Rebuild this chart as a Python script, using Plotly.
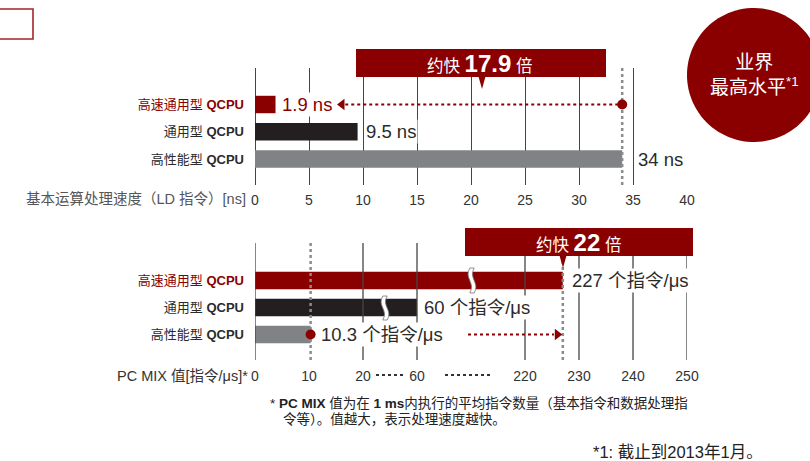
import numpy as np
import plotly.graph_objects as go

W, H = 810, 461

# ---------------- data ----------------
categories = ["高速通用型", "通用型", "高性能型"]
cpu_suffix = "QCPU"
ld_ns = [1.9, 9.5, 34]                 # 基本运算处理速度 [ns]
pcmix = [227, 60, 10.3]                # PC MIX 值 [指令/μs]
top_ticks = [0, 5, 10, 15, 20, 25, 30, 35, 40]
bottom_ticks = [0, 10, 20, 60, 220, 230, 240, 250]
bottom_grid = [0, 20, 60, 220, 230, 240, 250]
# broken-axis mapping (value -> position on a 0..40 scale)
break_values = [0, 20, 60, 220, 250]
break_positions = [0, 10, 15, 25, 40]

RED = "#8a0000"
colors = [RED, "#231f20", "#808285"]
GRID = "#454545"
DOT = "#8c8c8c"
FONT = "Liberation Sans, Noto Sans CJK SC, sans-serif"


def fx(p):
    return p / W


def fy(p):
    return 1 - p / H


def pos(v):
    return float(np.interp(v, break_values, break_positions))


def yrange(c0, step, top, bottom):
    return [(bottom - c0) / step, (top - c0) / step]


X0, X1 = 255, 687
px_per_unit = (X1 - X0) / 40.0

top_dom = [fy(185), fy(68)]
bot_dom = [fy(360), fy(243)]
top_yr = yrange(104.5, 27.25, 68, 185)
bot_yr = yrange(280.5, 27.0, 243, 360)

ticktext = [
    (f"<span style='color:{RED}'>{c} <b>{cpu_suffix}</b></span>" if i == 0 else f"{c} <b>{cpu_suffix}</b>")
    for i, c in enumerate(categories)
]
idx = list(range(len(categories)))

fig = go.Figure()

# ---------------- top chart ----------------
fig.add_trace(go.Bar(x=ld_ns, y=idx, orientation="h", marker=dict(color=colors, line=dict(width=0)),
                     width=0.64, xaxis="x", yaxis="y", hoverinfo="skip"))
fig.add_trace(go.Scatter(x=[ld_ns[2], ld_ns[2]], y=top_yr, mode="lines", xaxis="x", yaxis="y",
                         line=dict(color=DOT, width=2.5, dash="dot"), hoverinfo="skip"))
tip_top = (342 - X0) / px_per_unit
fig.add_trace(go.Scatter(x=[tip_top + 0.3, ld_ns[2]], y=[0, 0], mode="lines", xaxis="x", yaxis="y",
                         line=dict(color=RED, width=2.2, dash="dot"), hoverinfo="skip"))
fig.add_trace(go.Scatter(x=[tip_top], y=[0], mode="markers", xaxis="x", yaxis="y",
                         marker=dict(symbol="triangle-left", size=10, color=RED), hoverinfo="skip"))
fig.add_trace(go.Scatter(x=[ld_ns[2]], y=[0], mode="markers", xaxis="x", yaxis="y",
                         marker=dict(symbol="circle", size=10, color=RED), hoverinfo="skip"))

# ---------------- bottom chart ----------------
gx, gy = [], []
for g in bottom_grid:
    gx += [pos(g), pos(g), None]
    gy += [bot_yr[0], bot_yr[1], None]
fig.add_trace(go.Scatter(x=gx, y=gy, mode="lines", xaxis="x2", yaxis="y2",
                         line=dict(color=GRID, width=1.3), hoverinfo="skip"))
fig.add_trace(go.Bar(x=[pos(v) for v in pcmix], y=idx, orientation="h",
                     marker=dict(color=colors, line=dict(width=0)),
                     width=0.65, xaxis="x2", yaxis="y2", hoverinfo="skip"))
fig.add_trace(go.Scatter(x=[pos(pcmix[2])] * 2, y=bot_yr, mode="lines", xaxis="x2", yaxis="y2",
                         line=dict(color=DOT, width=2.5, dash="dot"), hoverinfo="skip"))
fig.add_trace(go.Scatter(x=[pos(pcmix[0])] * 2, y=[bot_yr[0], (257 - 280.5) / 27.0], mode="lines",
                         xaxis="x2", yaxis="y2", line=dict(color=DOT, width=2.5, dash="dot"),
                         hoverinfo="skip"))
arrow_start = (468 - X0) / px_per_unit
tip_bot = pos(pcmix[0]) - 5.5 / px_per_unit
fig.add_trace(go.Scatter(x=[arrow_start, tip_bot - 0.3], y=[2, 2], mode="lines", xaxis="x2", yaxis="y2",
                         line=dict(color=RED, width=2.2, dash="dot"), hoverinfo="skip"))
fig.add_trace(go.Scatter(x=[tip_bot], y=[2], mode="markers", xaxis="x2", yaxis="y2",
                         marker=dict(symbol="triangle-right", size=10, color=RED), hoverinfo="skip"))
fig.add_trace(go.Scatter(x=[pos(pcmix[2])], y=[2], mode="markers", xaxis="x2", yaxis="y2",
                         marker=dict(symbol="circle", size=10, color=RED), hoverinfo="skip"))

# ---------------- shapes ----------------
shapes = []
# small outlined box, top-left
shapes.append(dict(type="rect", xref="paper", yref="paper", x0=fx(-2), x1=fx(33), y0=fy(39), y1=fy(9),
                   line=dict(color="#a3262a", width=1.6), fillcolor="white"))
# banners
shapes.append(dict(type="rect", xref="paper", yref="paper", x0=fx(356), x1=fx(606), y0=fy(77), y1=fy(49),
                   line=dict(width=0), fillcolor=RED))
shapes.append(dict(type="path", xref="paper", yref="paper",
                   path=f"M {fx(478.5)},{fy(76.5)} L {fx(485.5)},{fy(76.5)} L {fx(482)},{fy(89)} Z",
                   line=dict(width=0), fillcolor=RED))
shapes.append(dict(type="rect", xref="paper", yref="paper", x0=fx(465), x1=fx(693), y0=fy(256), y1=fy(228),
                   line=dict(width=0), fillcolor=RED))
shapes.append(dict(type="path", xref="paper", yref="paper",
                   path=f"M {fx(559.5)},{fy(255.5)} L {fx(566.5)},{fy(255.5)} L {fx(563)},{fy(268)} Z",
                   line=dict(width=0), fillcolor=RED))
# circle badge, clipped at the right page edge
cx, cy, r = 754.0, 75.0, 67.0
a_lim = np.arccos((W - cx) / r)
angles = np.linspace(a_lim, 2 * np.pi - a_lim, 90)
pts = [(cx + r * np.cos(a), cy - r * np.sin(a)) for a in angles]
circ = "M " + " L ".join(f"{fx(px_):.5f},{fy(py_):.5f}" for px_, py_ in pts) + " Z"
shapes.append(dict(type="path", xref="paper", yref="paper", path=circ, line=dict(width=0), fillcolor=RED))


def break_mark(xc, yt, yb):
    h = yb - yt
    xl, xr = xc - 2.2, xc + 2.2
    p = (f"M {fx(xl)},{fy(yt)} C {fx(xl - 6)},{fy(yt + h * 0.4)} {fx(xl + 6)},{fy(yt + h * 0.6)} {fx(xl)},{fy(yb)} "
         f"L {fx(xr)},{fy(yb)} C {fx(xr + 6)},{fy(yt + h * 0.6)} {fx(xr - 6)},{fy(yt + h * 0.4)} {fx(xr)},{fy(yt)} Z")
    return dict(type="path", xref="paper", yref="paper", path=p, fillcolor="white",
                line=dict(color="#777777", width=0.8))


shapes.append(break_mark(472, 268, 293))
shapes.append(break_mark(385, 296, 320))

# dotted separators on the broken axis
shapes.append(dict(type="line", xref="paper", yref="paper", x0=fx(376), x1=fx(405), y0=fy(375), y1=fy(375),
                   line=dict(color="#333333", width=2.2, dash="dot")))
shapes.append(dict(type="line", xref="paper", yref="paper", x0=fx(445), x1=fx(491), y0=fy(375), y1=fy(375),
                   line=dict(color="#333333", width=2.2, dash="dot")))

# ---------------- annotations ----------------
ann = []
VAL = 18.5
ann.append(dict(x=ld_ns[0], y=0, xref="x", yref="y", xanchor="left", yanchor="middle", xshift=4,
                text=f"{ld_ns[0]} ns", font=dict(size=VAL, color=RED), bgcolor="white", showarrow=False))
ann.append(dict(x=ld_ns[1], y=1, xref="x", yref="y", xanchor="left", yanchor="middle", xshift=6,
                text=f"{ld_ns[1]} ns", font=dict(size=VAL, color="#2b2b2b"), bgcolor="white", showarrow=False))
ann.append(dict(x=ld_ns[2], y=2, xref="x", yref="y", xanchor="left", yanchor="middle", xshift=14,
                text=f"{ld_ns[2]} ns", font=dict(size=VAL, color="#2b2b2b"), bgcolor="white", showarrow=False))

ann.append(dict(x=pos(pcmix[0]), y=0, xref="x2", yref="y2", xanchor="left", yanchor="middle", xshift=7,
                text=f"{pcmix[0]} 个指令/μs", font=dict(size=VAL, color="#2b2b2b"), bgcolor="white",
                showarrow=False))
ann.append(dict(x=pos(pcmix[1]), y=1, xref="x2", yref="y2", xanchor="left", yanchor="middle", xshift=5,
                text=f"{pcmix[1]} 个指令/μs", font=dict(size=VAL, color="#2b2b2b"), bgcolor="white",
                showarrow=False))
ann.append(dict(x=pos(pcmix[2]), y=2, xref="x2", yref="y2", xanchor="left", yanchor="middle", xshift=8,
                text=f"{pcmix[2]} 个指令/μs", font=dict(size=VAL, color="#2b2b2b"), bgcolor="white",
                showarrow=False))

ratio_ld = ld_ns[2] / ld_ns[0]
ratio_mix = pcmix[0] / pcmix[2]
ann.append(dict(x=fx(479), y=fy(63.5), xref="paper", yref="paper", xanchor="center", yanchor="middle",
                text=f"约快 <b><span style='font-size:24px'>{ratio_ld:.1f}</span></b> 倍",
                font=dict(size=16.5, color="white"), showarrow=False))
ann.append(dict(x=fx(578), y=fy(242.5), xref="paper", yref="paper", xanchor="center", yanchor="middle",
                text=f"约快 <b><span style='font-size:24px'>{ratio_mix:.0f}</span></b> 倍",
                font=dict(size=16.5, color="white"), showarrow=False))

ann.append(dict(x=fx(754), y=fy(75), xref="paper", yref="paper", xanchor="center", yanchor="middle",
                text="业界<br>最高水平<sup>*1</sup>", font=dict(size=19, color="white"), showarrow=False))

ann.append(dict(x=fx(248), y=fy(199), xref="paper", yref="paper", xanchor="right", yanchor="middle",
                text="基本运算处理速度（LD 指令）[ns]", font=dict(size=14.5, color="#555555"), showarrow=False))
ann.append(dict(x=fx(250), y=fy(376), xref="paper", yref="paper", xanchor="right", yanchor="middle",
                text="PC MIX 值[指令/μs]*", font=dict(size=14.5, color="#333333"), showarrow=False))

ann.append(dict(x=fx(268), y=fy(403), xref="paper", yref="paper", xanchor="left", yanchor="middle",
                text="* <b>PC MIX</b> 值为在 <b>1 ms</b>内执行的平均指令数量（基本指令和数据处理指",
                font=dict(size=13.5, color="#222222"), showarrow=False))
ann.append(dict(x=fx(281), y=fy(419), xref="paper", yref="paper", xanchor="left", yanchor="middle",
                text="令等）。值越大，表示处理速度越快。",
                font=dict(size=13.5, color="#222222"), showarrow=False))
ann.append(dict(x=fx(591), y=fy(452), xref="paper", yref="paper", xanchor="left", yanchor="middle",
                text="*1: 截止到2013年1月。", font=dict(size=16.5, color="#222222"), showarrow=False))

axis_common = dict(showline=False, zeroline=False, ticks="", fixedrange=True, automargin=False)

fig.update_layout(
    width=W, height=H, autosize=False,
    margin=dict(l=0, r=0, t=0, b=0, pad=0, autoexpand=False),
    paper_bgcolor="white", plot_bgcolor="rgba(0,0,0,0)",
    font=dict(family=FONT, color="#2b2b2b"),
    showlegend=False, barmode="overlay",
    xaxis=dict(domain=[fx(X0), fx(X1)], range=[0, 40], anchor="y",
               tickvals=top_ticks, ticktext=[str(t) for t in top_ticks],
               showgrid=True, gridcolor=GRID, gridwidth=1.3,
               zeroline=True, zerolinecolor=GRID, zerolinewidth=1.3,
               showline=False, ticks="", ticklabelstandoff=5, automargin=False,
               tickfont=dict(size=14, color="#333333"), fixedrange=True),
    yaxis=dict(domain=top_dom, range=top_yr, anchor="x", tickvals=idx, ticktext=ticktext,
               showgrid=False, ticklabelstandoff=10, tickfont=dict(size=13, color="#2b2b2b"), **axis_common),
    xaxis2=dict(domain=[fx(X0), fx(X1)], range=[0, 40], anchor="y2",
                tickvals=[pos(t) for t in bottom_ticks], ticktext=[str(t) for t in bottom_ticks],
                showgrid=False, ticklabelstandoff=6,
                tickfont=dict(size=14, color="#333333"), **axis_common),
    yaxis2=dict(domain=bot_dom, range=bot_yr, anchor="x2", tickvals=idx, ticktext=ticktext,
                showgrid=False, ticklabelstandoff=10, tickfont=dict(size=13, color="#2b2b2b"), **axis_common),
    shapes=shapes,
    annotations=ann,
)

fig.write_html("out.html", config={"displayModeBar": False, "responsive": False},
               post_script=("document.documentElement.style.margin='0';"
                            "document.documentElement.style.overflow='hidden';"
                            "document.body.style.margin='0';document.body.style.overflow='hidden';"))
